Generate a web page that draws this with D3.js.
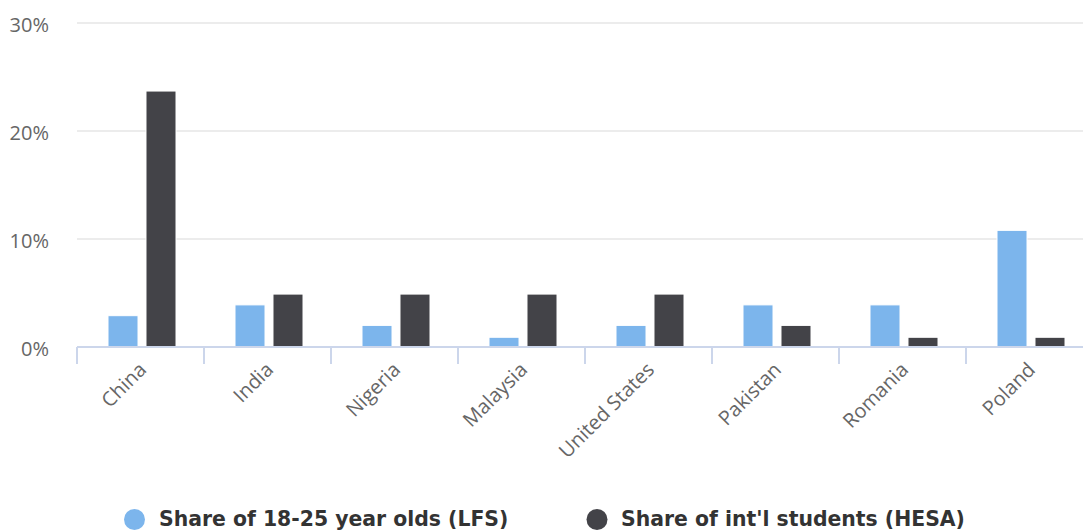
<!DOCTYPE html>
<html>
<head>
<meta charset="utf-8">
<script src="https://cdn.jsdelivr.net/npm/d3@7"></script>
<style>
  html, body { margin: 0; padding: 0; background: #fff; }
  svg { display: block; }
</style>
</head>
<body>
<svg id="chart" width="1083" height="531"></svg>
<script>
// Countries of origin
const categories = ["China", "India", "Nigeria", "Malaysia", "United States", "Pakistan", "Romania", "Poland"];
// Share of 18-25 year olds (LFS), %
const lfsShare = [2.9, 3.9, 2.0, 0.9, 2.0, 3.9, 3.9, 10.8];
// Share of international students (HESA), %
const hesaShare = [23.7, 4.9, 4.9, 4.9, 4.9, 2.0, 0.9, 0.9];
const seriesNames = ["Share of 18-25 year olds (LFS)", "Share of int'l students (HESA)"];
const seriesColors = ["#7cb5ec", "#434348"];
const yTicks = [0, 10, 20, 30];

const svg = d3.select("#chart");
const W = 1083, H = 531;
const step = 127;
const plotL = 77, plotR = plotL + step * categories.length;
const plotT = 23, plotB = 347;

const x = d3.scaleBand().domain(categories).range([plotL, plotR]).padding(0);
// two bars per group, 30px wide with an 8px gap
const x1 = d3.scaleBand().domain([0, 1]).range([31, 99]).paddingInner(0.21).paddingOuter(0);
const y = d3.scaleLinear().domain([0, 30]).range([plotB, plotT]);

const axisFont = "'Open Sans', 'DejaVu Sans', sans-serif";

// horizontal grid
svg.append("g").selectAll("line").data(yTicks.filter(t => t > 0)).join("line")
  .attr("x1", plotL).attr("x2", W)
  .attr("y1", d => y(d)).attr("y2", d => y(d))
  .attr("stroke", "#e6e6e6").attr("stroke-width", 1.6);

// y labels
svg.append("g").selectAll("text").data(yTicks).join("text")
  .attr("x", 49).attr("y", d => y(d) + 8.5)
  .attr("text-anchor", "end")
  .attr("font-family", axisFont).attr("font-size", 20).attr("fill", "#666")
  .text(d => d + "%");

// bars
const series = [lfsShare, hesaShare];
series.forEach((vals, si) => {
  svg.append("g").selectAll("rect").data(vals).join("rect")
    .attr("x", (d, i) => x(categories[i]) + x1(si))
    .attr("width", x1.bandwidth())
    .attr("y", d => y(d))
    .attr("height", d => plotB - y(d))
    .attr("fill", seriesColors[si])
    .attr("stroke", "#fff").attr("stroke-width", 1);
});

// x axis line and ticks
svg.append("line")
  .attr("x1", plotL).attr("x2", W)
  .attr("y1", plotB).attr("y2", plotB)
  .attr("stroke", "#ccd6eb").attr("stroke-width", 2);
svg.append("g").selectAll("line").data(categories).join("line")
  .attr("x1", d => x(d)).attr("x2", d => x(d))
  .attr("y1", plotB).attr("y2", plotB + 17)
  .attr("stroke", "#ccd6eb").attr("stroke-width", 2);

// rotated category labels
svg.append("g").selectAll("text").data(categories).join("text")
  .attr("transform", d => `translate(${x(d) + x.bandwidth() / 2 + 7},${plotB + 24}) rotate(-45)`)
  .attr("text-anchor", "end")
  .attr("font-family", axisFont).attr("font-size", 20).attr("fill", "#666")
  .text(d => d);

// legend
const legendItems = [{ cx: 134.5, tx: 159 }, { cx: 597, tx: 621 }];
legendItems.forEach((li, i) => {
  svg.append("circle").attr("cx", li.cx).attr("cy", 519.5).attr("r", 10.5)
    .attr("fill", seriesColors[i]);
  svg.append("text").attr("x", li.tx).attr("y", 526)
    .attr("font-family", "'DejaVu Sans', sans-serif")
    .attr("font-weight", "bold")
    .attr("font-size", 20.4).attr("fill", "#333")
    .text(seriesNames[i]);
});
</script>
</body>
</html>
